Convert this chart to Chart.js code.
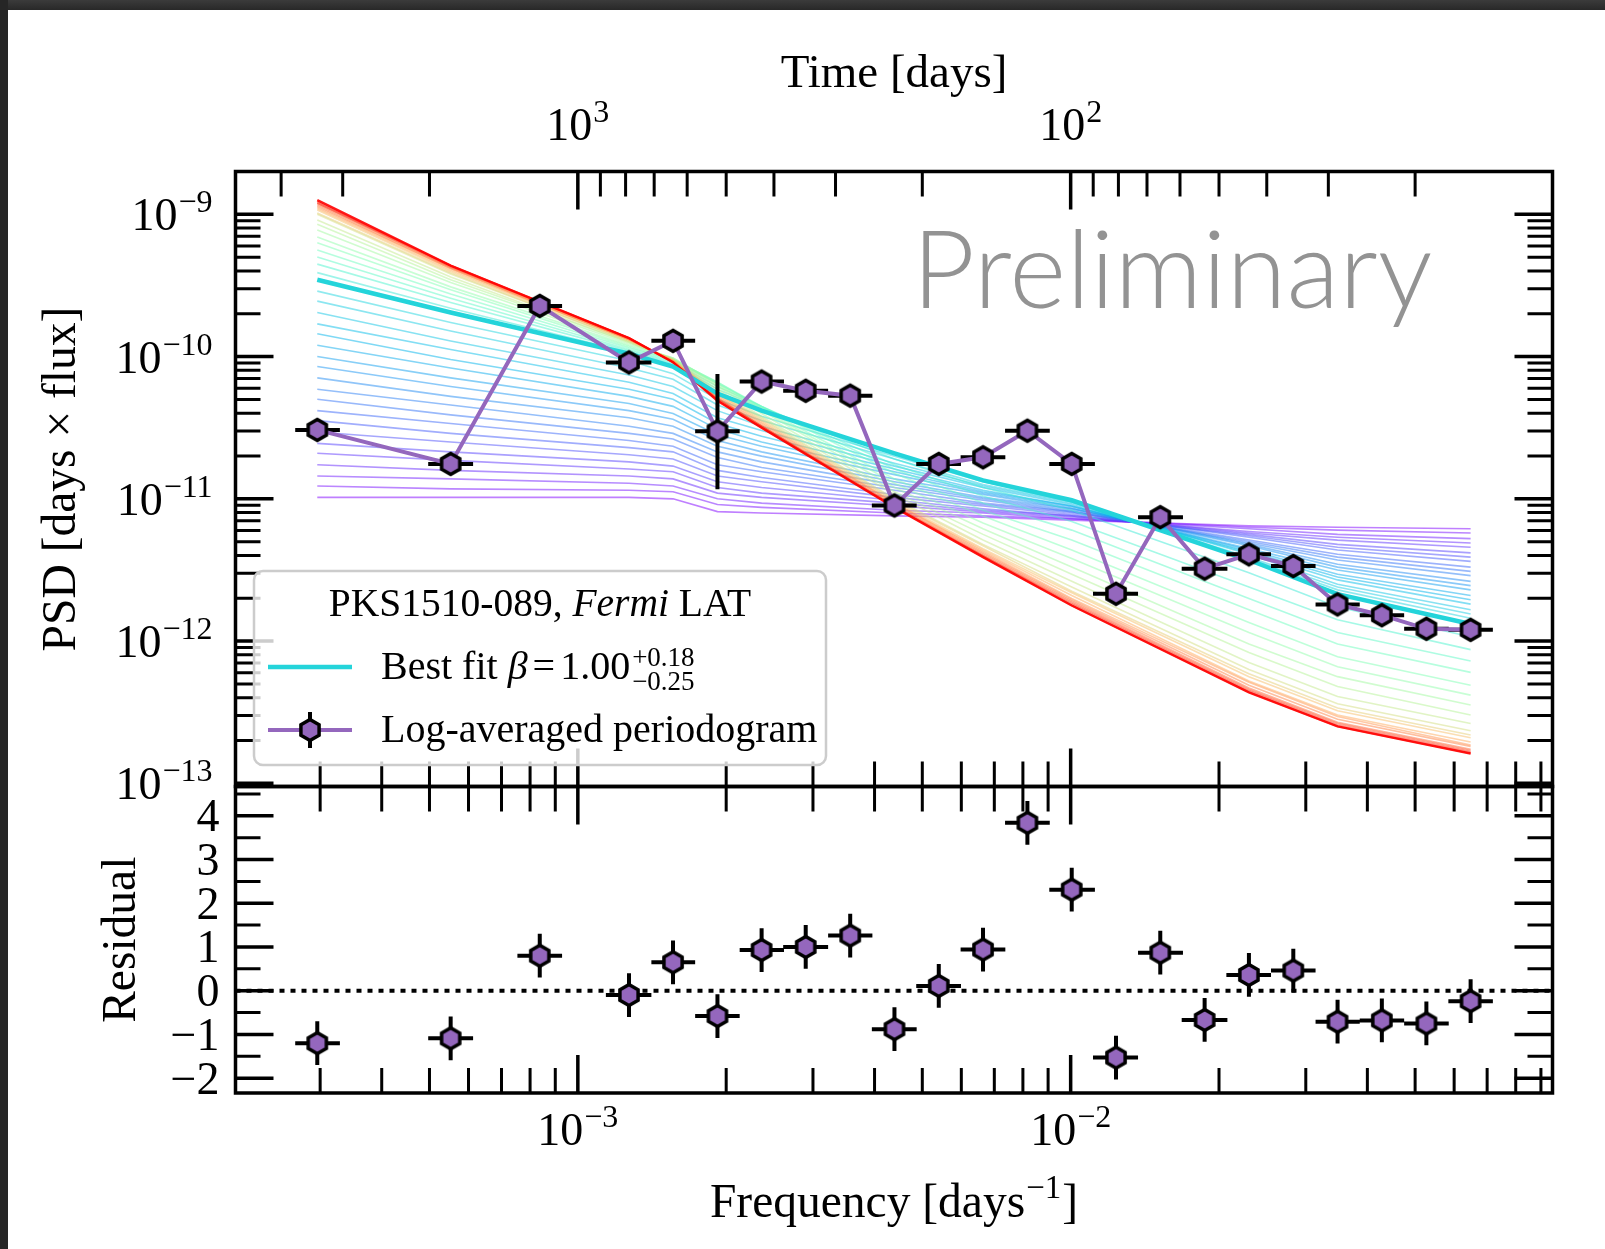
<!DOCTYPE html>
<html lang="en">
<head>
<meta charset="utf-8">
<title>PKS1510-089 power spectral density</title>
<script src="https://cdn.jsdelivr.net/npm/chart.js@4.4.1/dist/chart.umd.min.js"></script>
<style>
  html, body { margin: 0; padding: 0; background: #ffffff; overflow: hidden; }
  #page { position: relative; width: 1605px; height: 1249px; background: #ffffff; }
  #page canvas { position: absolute; left: 0; top: 0; }
  #frameTop { position: absolute; left: 0; top: 0; width: 1605px; height: 10px; background: linear-gradient(#3b3b3b, #282828); }
  #frameLeft { position: absolute; left: 0; top: 0; width: 8px; height: 1249px; background: #262626; }
</style>
</head>
<body>
<div id="page">
  <canvas id="psdChart" width="1605" height="1249"></canvas>
  <canvas id="residualChart" width="1605" height="1249"></canvas>
  <div id="frameTop"></div>
  <div id="frameLeft"></div>
</div>
<script>

// log-averaged periodogram, frequency bins in 1/day
var freq = [2.96e-4, 5.52e-4, 8.37e-4, 1.27e-3, 1.56e-3, 1.92e-3, 2.36e-3, 2.90e-3, 3.57e-3, 4.39e-3, 5.40e-3, 6.64e-3,
  8.17e-3, 1.005e-2, 1.236e-2, 1.52e-2, 1.87e-2, 2.30e-2, 2.83e-2, 3.48e-2, 4.28e-2, 5.27e-2, 6.48e-2];
var freqLow = [2.67e-4, 4.97e-4, 7.54e-4, 1.14e-3, 1.41e-3, 1.73e-3, 2.13e-3, 2.61e-3, 3.22e-3, 3.95e-3, 4.86e-3, 5.98e-3,
  7.36e-3, 9.05e-3, 1.11e-2, 1.37e-2, 1.68e-2, 2.07e-2, 2.55e-2, 3.14e-2, 3.86e-2, 4.75e-2, 5.84e-2];
var freqHigh = [3.29e-4, 6.13e-4, 9.29e-4, 1.41e-3, 1.73e-3, 2.13e-3, 2.62e-3, 3.22e-3, 3.96e-3, 4.87e-3, 5.99e-3, 7.37e-3,
  9.07e-3, 1.12e-2, 1.37e-2, 1.69e-2, 2.08e-2, 2.55e-2, 3.14e-2, 3.86e-2, 4.75e-2, 5.85e-2, 7.19e-2];
var psd = [3.05e-11, 1.76e-11, 2.27e-10, 9.10e-11, 1.29e-10, 2.98e-11, 6.68e-11, 5.75e-11, 5.31e-11, 8.98e-12, 1.76e-11, 1.96e-11,
  3.01e-11, 1.76e-11, 2.15e-12, 7.43e-12, 3.23e-12, 4.07e-12, 3.37e-12, 1.81e-12, 1.52e-12, 1.22e-12, 1.20e-12];
// only one bin has a vertical error bar larger than the marker
var psdLow = [null, null, null, null, null, 1.17e-11, null, null, null, null, null, null,
  null, null, null, null, null, null, null, null, null, null, null];
var psdHigh = [null, null, null, null, null, 7.53e-11, null, null, null, null, null, null,
  null, null, null, null, null, null, null, null, null, null, null];

var residual = [-1.20, -1.09, 0.80, -0.10, 0.65, -0.58, 0.93, 1.00, 1.26, -0.88, 0.11, 0.94,
  3.84, 2.31, -1.53, 0.87, -0.67, 0.36, 0.46, -0.71, -0.68, -0.75, -0.24];
var residualErr = [0.5, 0.5, 0.5, 0.5, 0.5, 0.5, 0.5, 0.5, 0.5, 0.5, 0.5, 0.5,
  0.5, 0.5, 0.5, 0.5, 0.5, 0.5, 0.5, 0.5, 0.5, 0.5, 0.5];

// simulated model PSDs, read at the frequencies where the curves bend
// values are log10(PSD)
var modelFreq = [2.96e-4, 5.52e-4, 1.27e-3, 1.56e-3, 1.92e-3, 2.36e-3, 4.39e-3, 6.64e-3, 1.005e-2, 2.30e-2, 3.48e-2, 6.48e-2];
var bestFitBeta = 1.00;
var bestFitLog = [-9.46, -9.69, -9.98, -10.07, -10.26, -10.38, -10.68, -10.87, -11.01, -11.43, -11.67, -11.88];
var modelBeta = [0.00, 0.05, 0.10, 0.15, 0.20, 0.25, 0.30, 0.35, 0.40, 0.45, 0.50, 0.55, 0.60, 0.65, 0.70, 0.75, 0.80, 0.85, 0.90, 0.95,
  1.1, 1.2, 1.3, 1.4, 1.5, 1.6, 1.7, 1.8, 1.9, 2.0, 2.1, 2.2, 2.3, 2.4, 2.5, 2.6, 2.7, 2.8, 2.9, 3.0];
var modelLog = [
  [-10.99, -10.99, -10.99, -11.00, -11.09, -11.10, -11.12, -11.13, -11.15, -11.19, -11.20, -11.21],
  [-10.91, -10.93, -10.94, -10.95, -11.04, -11.06, -11.10, -11.12, -11.14, -11.20, -11.22, -11.24],
  [-10.84, -10.86, -10.89, -10.91, -11.00, -11.03, -11.08, -11.10, -11.14, -11.21, -11.25, -11.28],
  [-10.76, -10.80, -10.84, -10.86, -10.96, -10.99, -11.05, -11.09, -11.13, -11.23, -11.27, -11.31],
  [-10.68, -10.73, -10.79, -10.81, -10.92, -10.96, -11.03, -11.08, -11.12, -11.24, -11.29, -11.34],
  [-10.61, -10.67, -10.74, -10.77, -10.88, -10.92, -11.01, -11.07, -11.12, -11.25, -11.32, -11.38],
  [-10.53, -10.60, -10.69, -10.72, -10.84, -10.88, -10.99, -11.05, -11.11, -11.26, -11.34, -11.41],
  [-10.45, -10.54, -10.64, -10.67, -10.80, -10.85, -10.97, -11.04, -11.10, -11.27, -11.36, -11.44],
  [-10.38, -10.47, -10.59, -10.63, -10.76, -10.81, -10.94, -11.03, -11.09, -11.29, -11.39, -11.48],
  [-10.30, -10.41, -10.54, -10.58, -10.71, -10.78, -10.92, -11.01, -11.09, -11.30, -11.41, -11.51],
  [-10.23, -10.34, -10.49, -10.54, -10.67, -10.74, -10.90, -11.00, -11.08, -11.31, -11.43, -11.54],
  [-10.15, -10.28, -10.43, -10.49, -10.63, -10.70, -10.88, -10.99, -11.07, -11.32, -11.46, -11.58],
  [-10.07, -10.21, -10.38, -10.44, -10.59, -10.67, -10.86, -10.97, -11.07, -11.33, -11.48, -11.61],
  [-10.00, -10.15, -10.33, -10.40, -10.55, -10.63, -10.83, -10.96, -11.06, -11.35, -11.50, -11.64],
  [-9.92, -10.08, -10.28, -10.35, -10.51, -10.60, -10.81, -10.95, -11.05, -11.36, -11.53, -11.68],
  [-9.84, -10.02, -10.23, -10.30, -10.47, -10.56, -10.79, -10.94, -11.05, -11.37, -11.55, -11.71],
  [-9.77, -9.95, -10.18, -10.26, -10.43, -10.52, -10.77, -10.92, -11.04, -11.38, -11.57, -11.74],
  [-9.69, -9.89, -10.13, -10.21, -10.38, -10.49, -10.75, -10.91, -11.03, -11.39, -11.60, -11.78],
  [-9.61, -9.82, -10.08, -10.16, -10.34, -10.45, -10.72, -10.90, -11.02, -11.41, -11.62, -11.81],
  [-9.54, -9.76, -10.03, -10.12, -10.30, -10.42, -10.70, -10.88, -11.02, -11.42, -11.64, -11.84],
  [-9.41, -9.66, -9.97, -10.05, -10.23, -10.36, -10.72, -10.92, -11.08, -11.52, -11.76, -11.97],
  [-9.35, -9.62, -9.96, -10.04, -10.21, -10.35, -10.76, -10.98, -11.16, -11.62, -11.85, -12.06],
  [-9.30, -9.59, -9.95, -10.03, -10.19, -10.35, -10.79, -11.03, -11.22, -11.70, -11.94, -12.14],
  [-9.25, -9.56, -9.94, -10.02, -10.18, -10.35, -10.82, -11.08, -11.29, -11.78, -12.02, -12.22],
  [-9.20, -9.53, -9.93, -10.02, -10.18, -10.36, -10.86, -11.12, -11.36, -11.87, -12.11, -12.31],
  [-9.16, -9.51, -9.92, -10.01, -10.19, -10.37, -10.89, -11.17, -11.42, -11.94, -12.18, -12.38],
  [-9.11, -9.48, -9.91, -10.01, -10.20, -10.38, -10.92, -11.21, -11.48, -12.02, -12.25, -12.45],
  [-9.07, -9.46, -9.90, -10.02, -10.21, -10.40, -10.95, -11.25, -11.53, -12.08, -12.32, -12.52],
  [-9.04, -9.44, -9.90, -10.02, -10.23, -10.42, -10.97, -11.29, -11.58, -12.15, -12.39, -12.58],
  [-9.00, -9.42, -9.89, -10.02, -10.25, -10.43, -11.00, -11.32, -11.62, -12.20, -12.44, -12.63],
  [-8.99, -9.41, -9.89, -10.02, -10.26, -10.44, -11.01, -11.33, -11.65, -12.23, -12.47, -12.66],
  [-8.97, -9.40, -9.88, -10.03, -10.26, -10.45, -11.02, -11.35, -11.66, -12.25, -12.49, -12.68],
  [-8.96, -9.39, -9.88, -10.03, -10.27, -10.46, -11.03, -11.36, -11.68, -12.28, -12.52, -12.71],
  [-8.95, -9.38, -9.88, -10.03, -10.28, -10.47, -11.03, -11.37, -11.70, -12.29, -12.53, -12.73],
  [-8.94, -9.38, -9.88, -10.03, -10.29, -10.48, -11.04, -11.38, -11.71, -12.31, -12.55, -12.74],
  [-8.93, -9.37, -9.87, -10.04, -10.29, -10.49, -11.05, -11.39, -11.72, -12.33, -12.57, -12.76],
  [-8.92, -9.37, -9.87, -10.04, -10.30, -10.49, -11.05, -11.40, -11.73, -12.34, -12.58, -12.77],
  [-8.92, -9.36, -9.87, -10.04, -10.30, -10.49, -11.06, -11.40, -11.74, -12.35, -12.59, -12.78],
  [-8.91, -9.36, -9.87, -10.04, -10.31, -10.50, -11.06, -11.41, -11.75, -12.36, -12.60, -12.79],
  [-8.90, -9.36, -9.87, -10.04, -10.31, -10.50, -11.06, -11.41, -11.75, -12.36, -12.60, -12.79]
];

// axis limits and ticks
var freqMin = 2.02e-4, freqMax = 9.5e-2;
var psdMin = 9.5e-14, psdMax = 2.0e-9;
var resMin = -2.34, resMax = 4.67;

var freqMajorTicks = [1e-3, 1e-2];
var freqTickLabels = ['\u22123', '\u22122'];
var freqMinorTicks = [3e-4, 4e-4, 5e-4, 6e-4, 7e-4, 8e-4, 9e-4, 2e-3, 3e-3, 4e-3, 5e-3, 6e-3, 7e-3, 8e-3, 9e-3,
  2e-2, 3e-2, 4e-2, 5e-2, 6e-2, 7e-2, 8e-2, 9e-2];
var timeMajorTicks = [1000, 100];
var timeTickLabels = ['3', '2'];
var timeMinorTicks = [4000, 3000, 2000, 900, 800, 700, 600, 500, 400, 300, 200, 90, 80, 70, 60, 50, 40, 30, 20];
var psdMajorTicks = [1e-13, 1e-12, 1e-11, 1e-10, 1e-9];
var psdTickLabels = ['\u221213', '\u221212', '\u221211', '\u221210', '\u22129'];
var psdMinorTicks = [];
psdMajorTicks.forEach(function (d) {
  for (var k = 2; k <= 9; k++) psdMinorTicks.push(k * d);
});
var resMajorTicks = [-2, -1, 0, 1, 2, 3, 4];
var resTickLabels = ['\u22122', '\u22121', '0', '1', '2', '3', '4'];
var resMinorTicks = [-1.5, -0.5, 0.5, 1.5, 2.5, 3.5, 4.5];


var SERIF = '"Liberation Serif", "Times New Roman", Times, serif';
var PURPLE = '#9467bd';
var CYAN = '#24d4da';

function font(size, style) {
  return (style ? style + ' ' : '') + size + 'px ' + SERIF;
}

// matplotlib "rainbow" colormap
function rainbow(t, alpha) {
  var r = Math.min(1, Math.abs(2 * t - 0.5));
  var g = Math.sin(Math.PI * t);
  var b = Math.max(0, Math.cos(Math.PI * t / 2));
  return 'rgba(' + Math.round(255 * r) + ',' + Math.round(255 * g) + ',' + Math.round(255 * b) + ',' + alpha + ')';
}

function hexagon(radius) {
  var c = document.createElement('canvas');
  c.width = 30; c.height = 30;
  var g = c.getContext('2d');
  g.beginPath();
  for (var i = 0; i < 6; i++) {
    var a = Math.PI / 3 * i - Math.PI / 2;
    var px = 15 + radius * Math.cos(a), py = 15 + radius * Math.sin(a);
    if (i === 0) g.moveTo(px, py); else g.lineTo(px, py);
  }
  g.closePath();
  g.fillStyle = PURPLE;
  g.fill();
  g.lineWidth = 3.5;
  g.strokeStyle = '#000';
  g.stroke();
  return c;
}
var marker = hexagon(10.5);

function points(xs, ys) {
  return xs.map(function (x, i) { return {x: x, y: ys[i]}; });
}
function fromLog(xs, logs) {
  return xs.map(function (x, i) { return {x: x, y: Math.pow(10, logs[i])}; });
}

function drawRuns(ctx, runs, x, y, align) {
  var widths = runs.map(function (r) {
    ctx.font = font(r.size, r.style);
    return ctx.measureText(r.t).width + (r.pad || 0);
  });
  var total = widths.reduce(function (s, w) { return s + w; }, 0);
  var cx = align === 'right' ? x - total : (align === 'center' ? x - total / 2 : x);
  ctx.textAlign = 'left';
  ctx.textBaseline = 'alphabetic';
  runs.forEach(function (r, i) {
    ctx.font = font(r.size, r.style);
    ctx.fillText(r.t, cx + (r.pad || 0), y + (r.dy || 0));
    cx += widths[i];
  });
  return cx;
}

function powerLabel(ctx, exponent, x, y, align) {
  drawRuns(ctx, [{t: '10', size: 46}, {t: exponent, size: 32, dy: -18, pad: 1}], x, y, align);
}

function tickX(ctx, area, scale, values, yEdge, dir, len, width) {
  ctx.lineWidth = width;
  ctx.beginPath();
  values.forEach(function (v) {
    var x = scale.getPixelForValue(v);
    if (x < area.left - 0.6 || x > area.right + 0.6) return;
    ctx.moveTo(x, yEdge);
    ctx.lineTo(x, yEdge + dir * len);
  });
  ctx.stroke();
}

function tickY(ctx, area, scale, values, xEdge, dir, len, width) {
  ctx.lineWidth = width;
  ctx.beginPath();
  values.forEach(function (v) {
    var y = scale.getPixelForValue(v);
    if (y < area.top - 0.6 || y > area.bottom + 0.6) return;
    ctx.moveTo(xEdge, y);
    ctx.lineTo(xEdge + dir * len, y);
  });
  ctx.stroke();
}

function verticalTitle(ctx, text, x, y) {
  ctx.save();
  ctx.translate(x, y);
  ctx.rotate(-Math.PI / 2);
  ctx.font = font(47.5);
  ctx.textAlign = 'center';
  ctx.textBaseline = 'alphabetic';
  ctx.fillText(text, 0, 0);
  ctx.restore();
}

function roundRect(ctx, x, y, w, h, r) {
  ctx.beginPath();
  ctx.moveTo(x + r, y);
  ctx.arcTo(x + w, y, x + w, y + h, r);
  ctx.arcTo(x + w, y + h, x, y + h, r);
  ctx.arcTo(x, y + h, x, y, r);
  ctx.arcTo(x, y, x + w, y, r);
  ctx.closePath();
}

function drawLegend(ctx) {
  roundRect(ctx, 254, 571, 572, 194, 9);
  ctx.fillStyle = 'rgba(255,255,255,0.8)';
  ctx.fill();
  ctx.strokeStyle = '#cccccc';
  ctx.lineWidth = 2.5;
  ctx.stroke();

  ctx.fillStyle = '#000';
  drawRuns(ctx, [{t: 'PKS1510-089, ', size: 39.5}, {t: 'Fermi', size: 39.5, style: 'italic'}, {t: ' LAT', size: 39.5}], 540, 616, 'center');

  ctx.strokeStyle = CYAN;
  ctx.lineWidth = 4.5;
  ctx.beginPath(); ctx.moveTo(268, 667); ctx.lineTo(352, 667); ctx.stroke();
  var end = drawRuns(ctx, [{t: 'Best fit ', size: 40}, {t: '\u03b2', size: 40, style: 'italic'},
    {t: '=', size: 40, pad: 5}, {t: '1.00', size: 40, pad: 5}], 381, 679, 'left');
  ctx.font = font(27);
  ctx.fillText('+0.18', end + 2, 666);
  ctx.fillText('\u22120.25', end + 2, 690);

  ctx.strokeStyle = PURPLE;
  ctx.lineWidth = 4;
  ctx.beginPath(); ctx.moveTo(268, 730); ctx.lineTo(352, 730); ctx.stroke();
  ctx.strokeStyle = '#000';
  ctx.beginPath(); ctx.moveTo(310, 712); ctx.lineTo(310, 748); ctx.stroke();
  ctx.drawImage(marker, 295, 715);
  ctx.fillStyle = '#000';
  drawRuns(ctx, [{t: 'Log-averaged periodogram', size: 40}], 381, 742, 'left');
}

var errorBarPlugin = {
  id: 'errorBars',
  beforeDatasetDraw: function (chart, args) {
    var ds = chart.data.datasets[args.index];
    if (!ds.errorBars) return;
    var e = ds.errorBars, xs = chart.scales.x, ys = chart.scales.y, ctx = chart.ctx;
    ctx.save();
    ctx.strokeStyle = '#000';
    ctx.lineWidth = 4;
    ctx.lineCap = 'butt';
    ctx.beginPath();
    ds.data.forEach(function (p, i) {
      var px = xs.getPixelForValue(p.x), py = ys.getPixelForValue(p.y);
      ctx.moveTo(xs.getPixelForValue(e.xLow[i]), py);
      ctx.lineTo(xs.getPixelForValue(e.xHigh[i]), py);
      if (e.yLow[i] != null) {
        ctx.moveTo(px, ys.getPixelForValue(e.yLow[i]));
        ctx.lineTo(px, ys.getPixelForValue(e.yHigh[i]));
      }
    });
    ctx.stroke();
    ctx.restore();
  }
};

var psdDecor = {
  id: 'psdDecor',
  beforeDatasetsDraw: function (chart) {
    var ctx = chart.ctx;
    ctx.save();
    ctx.font = '300 109px Lato, "Open Sans", sans-serif';
    ctx.fillStyle = '#939393';
    ctx.textAlign = 'left';
    ctx.textBaseline = 'alphabetic';
    ctx.fillText('Preliminary', 912, 308);
    ctx.restore();
  },
  afterDraw: function (chart) {
    var ctx = chart.ctx, a = chart.chartArea;
    var xs = chart.scales.x, ts = chart.scales.time, ys = chart.scales.y;
    ctx.save();
    ctx.strokeStyle = '#000';
    ctx.fillStyle = '#000';
    tickX(ctx, a, ts, timeMajorTicks, a.top, 1, 38, 3.5);
    tickX(ctx, a, ts, timeMinorTicks, a.top, 1, 25, 3);
    tickX(ctx, a, xs, freqMajorTicks, a.bottom, -1, 38, 3.5);
    tickX(ctx, a, xs, freqMinorTicks, a.bottom, -1, 25, 3);
    tickY(ctx, a, ys, psdMajorTicks, a.left, 1, 38, 3.5);
    tickY(ctx, a, ys, psdMinorTicks, a.left, 1, 25, 3);
    tickY(ctx, a, ys, psdMajorTicks, a.right, -1, 38, 3.5);
    tickY(ctx, a, ys, psdMinorTicks, a.right, -1, 25, 3);
    ctx.lineWidth = 3.5;
    ctx.strokeRect(a.left, a.top, a.right - a.left, a.bottom - a.top);

    psdMajorTicks.forEach(function (v, i) {
      powerLabel(ctx, psdTickLabels[i], a.left - 23, ys.getPixelForValue(v) + 16, 'right');
    });
    timeMajorTicks.forEach(function (v, i) {
      powerLabel(ctx, timeTickLabels[i], ts.getPixelForValue(v), 140, 'center');
    });
    drawRuns(ctx, [{t: 'Time [days]', size: 47}], (a.left + a.right) / 2, 87, 'center');
    verticalTitle(ctx, 'PSD [days \u00d7 flux]', 75, (a.top + a.bottom) / 2);

    drawLegend(ctx);
    ctx.restore();
  }
};

var residualDecor = {
  id: 'residualDecor',
  afterDraw: function (chart) {
    var ctx = chart.ctx, a = chart.chartArea;
    var xs = chart.scales.x, ys = chart.scales.y;
    ctx.save();
    ctx.strokeStyle = '#000';
    ctx.fillStyle = '#000';
    tickX(ctx, a, xs, freqMajorTicks, a.top, 1, 38, 3.5);
    tickX(ctx, a, xs, freqMinorTicks, a.top, 1, 25, 3);
    tickX(ctx, a, xs, freqMajorTicks, a.bottom, -1, 38, 3.5);
    tickX(ctx, a, xs, freqMinorTicks, a.bottom, -1, 25, 3);
    tickY(ctx, a, ys, resMajorTicks, a.left, 1, 38, 3.5);
    tickY(ctx, a, ys, resMinorTicks, a.left, 1, 25, 3);
    tickY(ctx, a, ys, resMajorTicks, a.right, -1, 38, 3.5);
    tickY(ctx, a, ys, resMinorTicks, a.right, -1, 25, 3);
    ctx.lineWidth = 3.5;
    ctx.strokeRect(a.left, a.top, a.right - a.left, a.bottom - a.top);

    ctx.font = font(46);
    ctx.textAlign = 'right';
    ctx.textBaseline = 'alphabetic';
    resMajorTicks.forEach(function (v, i) {
      ctx.fillText(resTickLabels[i], a.left - 16, ys.getPixelForValue(v) + 15.5);
    });
    freqMajorTicks.forEach(function (v, i) {
      powerLabel(ctx, freqTickLabels[i], xs.getPixelForValue(v), 1145, 'center');
    });
    drawRuns(ctx, [{t: 'Frequency [days', size: 47.5}, {t: '\u22121', size: 33, dy: -19, pad: 1}, {t: ']', size: 47.5, pad: 1}],
      (a.left + a.right) / 2, 1217, 'center');
    verticalTitle(ctx, 'Residual', 135, (a.top + a.bottom) / 2);
    ctx.restore();
  }
};

// top panel: periodogram and model curves
var psdDatasets = [{
  label: 'Log-averaged periodogram',
  data: points(freq, psd),
  xAxisID: 'x', yAxisID: 'y',
  borderColor: PURPLE,
  borderWidth: 4,
  pointStyle: marker,
  pointRadius: 10,
  errorBars: {xLow: freqLow, xHigh: freqHigh, yLow: psdLow, yHigh: psdHigh},
  order: 0
}, {
  label: 'Best fit beta = ' + bestFitBeta,
  data: fromLog(modelFreq, bestFitLog),
  xAxisID: 'x', yAxisID: 'y',
  borderColor: CYAN,
  borderWidth: 4.5,
  pointRadius: 0,
  order: 1
}];
modelLog.forEach(function (row, k) {
  var last = k === modelLog.length - 1;
  psdDatasets.push({
    label: 'beta = ' + modelBeta[k],
    data: fromLog(modelFreq, row),
    xAxisID: 'x', yAxisID: 'y',
    borderColor: rainbow(modelBeta[k] / 3, last ? 0.9 : 0.5),
    borderWidth: last ? 2.4 : 1.6,
    pointRadius: 0,
    order: 100 - k
  });
});

var psdChart = new Chart(document.getElementById('psdChart'), {
  type: 'line',
  data: {datasets: psdDatasets},
  options: {
    responsive: false,
    animation: false,
    events: [],
    layout: {padding: {left: 235.5, right: 52.5, top: 171.5, bottom: 462.5}},
    plugins: {legend: {display: false}, tooltip: {enabled: false}},
    scales: {
      x: {type: 'logarithmic', min: freqMin, max: freqMax, display: false},
      time: {type: 'logarithmic', axis: 'x', position: 'top', reverse: true, min: 1 / freqMax, max: 1 / freqMin, display: false},
      y: {type: 'logarithmic', min: psdMin, max: psdMax, display: false}
    }
  },
  plugins: [errorBarPlugin, psdDecor]
});

// bottom panel: residuals
var residualChart = new Chart(document.getElementById('residualChart'), {
  type: 'line',
  data: {
    datasets: [{
      label: 'Residual',
      data: points(freq, residual),
      showLine: false,
      pointStyle: marker,
      pointRadius: 10,
      errorBars: {
        xLow: freqLow, xHigh: freqHigh,
        yLow: residual.map(function (r, i) { return r - residualErr[i]; }),
        yHigh: residual.map(function (r, i) { return r + residualErr[i]; })
      },
      order: 0
    }, {
      label: 'zero',
      data: [{x: freqMin, y: 0}, {x: freqMax, y: 0}],
      borderColor: '#000',
      borderWidth: 4,
      borderDash: [5, 6],
      pointRadius: 0,
      order: 1
    }]
  },
  options: {
    responsive: false,
    animation: false,
    events: [],
    layout: {padding: {left: 235.5, right: 52.5, top: 786.5, bottom: 156}},
    plugins: {legend: {display: false}, tooltip: {enabled: false}},
    scales: {
      x: {type: 'logarithmic', min: freqMin, max: freqMax, display: false},
      y: {type: 'linear', min: resMin, max: resMax, display: false}
    }
  },
  plugins: [errorBarPlugin, residualDecor]
});
</script>
</body>
</html>
